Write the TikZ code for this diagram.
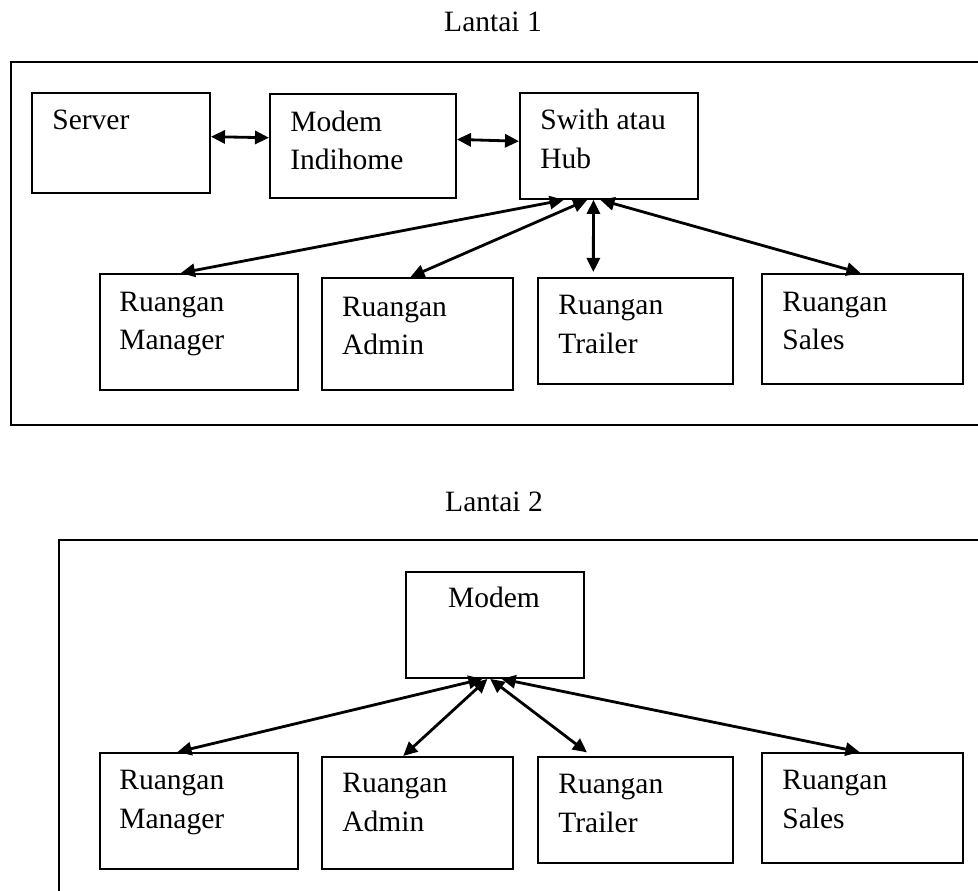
\documentclass[tikz,border=0pt]{standalone}
\usepackage{fontspec}
\setmainfont{Liberation Serif}
\usetikzlibrary{arrows.meta}

\tikzset{
  box/.style 2 args={shape=rectangle,draw=black,line width=1.1pt,anchor=north west,inner sep=0pt,minimum width=#1*0.02cm,minimum height=#2*0.02cm},
  txt/.style={anchor=base west,align=left,inner sep=0pt},
  link/.style={{Triangle[length=8pt,width=7.5pt]}-{Triangle[length=8pt,width=7.5pt]},line width=1.6pt},
  lantai/.style={line width=1.4pt}
}

\begin{document}
\begin{tikzpicture}[x=0.02cm,y=-0.02cm,font=\fontsize{16.8}{21.8}\selectfont]
\useasboundingbox (0,0) rectangle (978,891);
% lantai 1
\node[anchor=base] (L1) at (493,32) {Lantai 1};
\draw[lantai] (11,62) rectangle (995,425);
\node[box={178}{100}] (S) at (31,92) {};
\node[box={186}{104}] (M) at (269,93) {};
\node[box={178}{106}] (H) at (519,92) {};
\node[box={198}{116}] (RM) at (99,273) {};
\node[box={191}{112}] (RA) at (321,277) {};
\node[box={195}{106}] (RT) at (537,277) {};
\node[box={201}{110}] (RS) at (761,273) {};
% base = last line
\node[txt] (St) at (52,130) {Server};
\node[txt] (Mt) at (290,170) {Modem\\Indihome};
\node[txt] (Ht) at (540,168.3) {Swith atau\\Hub};
\node[txt] (RMt) at (119,350) {Ruangan\\Manager};
\node[txt] (RAt) at (341.7,355) {Ruangan\\Admin};
\node[txt] (RTt) at (558,353.3) {Ruangan\\Trailer};
\node[txt] (RSt) at (782,350) {Ruangan\\Sales};
\path [link] (S.4) edge (M.175);
\path [link] (M.4) edge (H.177);
\path [link] (H.230) edge (RM.107);
\path [link] (H.248) edge (RA.97);
\path [link] (H.254) edge[shorten >=0.1cm] (RT.128);
\path [link] (H.261) edge (RS.92);
% lantai 2
\node[anchor=base] (L2) at (494,512) {Lantai 2};
\draw[lantai] (59,540) rectangle (995,910);
\node[box={178}{106}] (M2) at (405,571) {};
\node[box={198}{116}] (RM2) at (99,752) {};
\node[box={191}{112}] (RA2) at (321,756) {};
\node[box={195}{106}] (RT2) at (537,756) {};
\node[box={201}{110}] (RS2) at (761,752) {};
\node[anchor=base,inner sep=0pt] (M2t) at (494,608) {Modem};
\node[txt] (RM2t) at (119,828.3) {Ruangan\\Manager};
\node[txt] (RA2t) at (342,831.3) {Ruangan\\Admin};
\node[txt] (RT2t) at (558,832.3) {Ruangan\\Trailer};
\node[txt] (RS2t) at (782,828.3) {Ruangan\\Sales};
\path [link] (M2.257) edge (RM2.110);
\path [link] (M2.262) edge (RA2.104);
\path [link] (M2.265) edge[shorten >=0.12cm] (RT2.129);
\path [link] (M2.277) edge (RS2.93);
\end{tikzpicture}
\end{document}
